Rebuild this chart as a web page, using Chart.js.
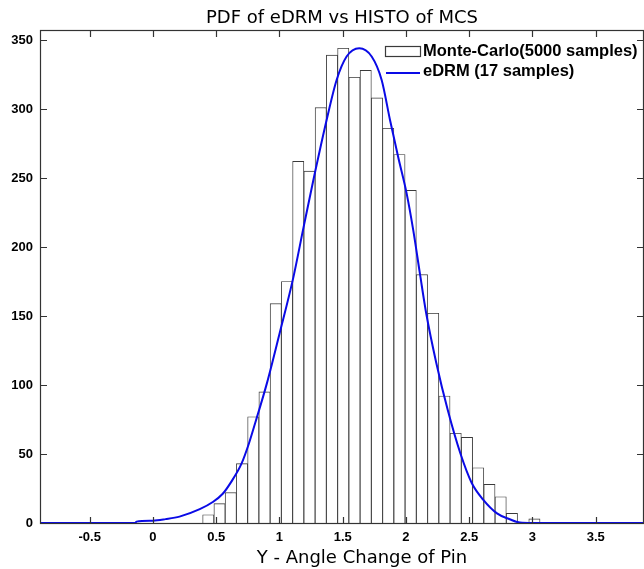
<!DOCTYPE html>
<html><head><meta charset="utf-8">
<script src="https://cdn.jsdelivr.net/npm/chart.js@4.4.1/dist/chart.umd.min.js"></script>
<style>html,body{margin:0;padding:0;background:#fff;overflow:hidden}canvas{display:block}</style>
</head><body>
<canvas id="c" width="644" height="569"></canvas>
<script>
const titleText = 'PDF of eDRM vs HISTO of MCS';
const xAxisTitle = 'Y - Angle Change of Pin';
const seriesNames = ['Monte-Carlo(5000 samples)', 'eDRM (17 samples)'];

// histogram of the Monte-Carlo samples (bin centres and counts)
const binCenters = [0.43745, 0.52635, 0.61525, 0.70415, 0.79305, 0.88195, 0.97085, 1.05975, 1.14865, 1.23755,
                    1.32645, 1.41535, 1.50425, 1.59315, 1.68205, 1.77095, 1.85985, 1.94875, 2.03765, 2.12655,
                    2.21545, 2.30435, 2.39325, 2.48215, 2.57105, 2.65995, 2.74885, 2.83775, 2.92665, 3.01555];
const mcsCounts = [6, 14, 22, 43, 77, 95, 159, 175, 262, 255,
                   301, 339, 344, 323, 328, 308, 286, 267, 241, 180,
                   152, 92, 65, 62, 40, 28, 19, 7, 0, 3];

// eDRM pdf curve (scaled to counts)
const curveX = [-0.885, -0.14, -0.13, 0.0, 0.1, 0.21, 0.37, 0.47, 0.55, 0.62, 0.70, 0.76, 0.81, 0.90, 1.00, 1.11, 1.19,
                1.267, 1.373, 1.452, 1.531, 1.631, 1.729, 1.808, 1.874, 1.939, 2.005, 2.058, 2.11, 2.16, 2.24,
                2.33, 2.43, 2.52, 2.61, 2.72, 2.82, 2.90, 3.0, 3.874];
const curveY = [0, 0, 1.0, 1.7, 2.8, 4.6, 10, 15, 21, 30, 43, 58, 73, 101, 137, 178, 214,
                248, 292, 321, 338, 344, 338, 321, 292, 265, 239, 212, 181, 152, 116,
                82, 50.5, 29, 17, 7, 2.7, 0.3, 0, 0];

const xTicks = [-0.5, 0, 0.5, 1, 1.5, 2, 2.5, 3, 3.5];
const xTickLabels = ['-0.5', '0', '0.5', '1', '1.5', '2', '2.5', '3', '3.5'];
const yTicks = [0, 50, 100, 150, 200, 250, 300, 350];
const yTickLabels = ['0', '50', '100', '150', '200', '250', '300', '350'];
const xRange = [-0.885, 3.874];
const yRange = [0, 356.5];

const frameColor = '#333';
const decor = {
  id: 'decor',
  afterDatasetsDraw(chart) {
    const {ctx, chartArea: a, scales: {x, y}} = chart;
    ctx.save();
    ctx.strokeStyle = frameColor;
    ctx.lineWidth = 1.2;
    ctx.strokeRect(a.left - 0.5, a.top - 0.5, a.right - a.left + 1, a.bottom - a.top + 1);
    ctx.beginPath();
    const tl = 6;
    yTicks.forEach(v => {
      const py = Math.round(y.getPixelForValue(v)) + 0.5;
      ctx.moveTo(a.left, py); ctx.lineTo(a.left + tl, py);
      ctx.moveTo(a.right, py); ctx.lineTo(a.right - tl, py);
    });
    xTicks.forEach(v => {
      const px = Math.round(x.getPixelForValue(v)) + 0.5;
      ctx.moveTo(px, a.bottom); ctx.lineTo(px, a.bottom - tl);
      ctx.moveTo(px, a.top); ctx.lineTo(px, a.top + tl);
    });
    ctx.stroke();

    // title and x-axis title
    ctx.fillStyle = '#000';
    ctx.textAlign = 'center';
    ctx.textBaseline = 'alphabetic';
    ctx.font = '18px "DejaVu Sans"';
    ctx.fillText(titleText, 342, 23);
    ctx.fillText(xAxisTitle, 362, 563);

    // legend
    const ds = chart.data.datasets;
    ctx.fillStyle = '#fff';
    ctx.fillRect(385.5, 46.5, 35, 10);
    ctx.strokeStyle = ds[0].borderColor;
    ctx.lineWidth = 1.2;
    ctx.strokeRect(385.5, 46.5, 35, 10);
    ctx.strokeStyle = ds[1].borderColor;
    ctx.lineWidth = 2;
    ctx.beginPath(); ctx.moveTo(386, 73); ctx.lineTo(420, 73); ctx.stroke();
    ctx.fillStyle = '#000';
    ctx.textAlign = 'left';
    ctx.font = 'bold 16.5px "Liberation Sans", Arial';
    ctx.fillText(ds[0].label, 423, 56);
    ctx.fillText(ds[1].label, 423, 76);
    ctx.restore();
  }
};

const tickFont = {family: '"Liberation Sans", Arial', size: 13, weight: 'bold'};
new Chart(document.getElementById('c'), {
  type: 'bar',
  data: {
    datasets: [
      {
        type: 'bar', label: seriesNames[0],
        data: binCenters.map((c, i) => ({x: c, y: mcsCounts[i]})),
        backgroundColor: '#fff', borderColor: '#3a3a3a', borderWidth: 0.9, borderSkipped: 'bottom',
        barPercentage: 1, categoryPercentage: 1, order: 2
      },
      {
        type: 'line', label: seriesNames[1],
        data: curveX.map((v, i) => ({x: v, y: curveY[i]})),
        borderColor: '#0a0ae6', borderWidth: 2, pointRadius: 0,
        cubicInterpolationMode: 'monotone', fill: false, order: 1
      }
    ]
  },
  options: {
    responsive: false, animation: false, devicePixelRatio: 1,
    layout: {padding: {top: 31, right: 1, left: 0, bottom: 0}},
    plugins: {legend: {display: false}, tooltip: {enabled: false}, title: {display: false}},
    scales: {
      x: {
        type: 'linear', min: xRange[0], max: xRange[1], offset: false,
        grid: {display: false, drawTicks: false}, border: {display: false},
        afterBuildTicks: s => { s.ticks = xTicks.map(v => ({value: v})); },
        afterFit: s => { s.height = 46; },
        ticks: {padding: 7, autoSkip: false, maxRotation: 0, color: '#000', font: tickFont,
                callback: (v, i) => xTickLabels[i]}
      },
      y: {
        type: 'linear', min: yRange[0], max: yRange[1],
        grid: {display: false, drawTicks: false}, border: {display: false},
        afterBuildTicks: s => { s.ticks = yTicks.map(v => ({value: v})); },
        afterFit: s => { s.width = 41; },
        ticks: {padding: 8, color: '#000', font: tickFont, callback: (v, i) => yTickLabels[i]}
      }
    }
  },
  plugins: [decor]
});
</script>
</body></html>
